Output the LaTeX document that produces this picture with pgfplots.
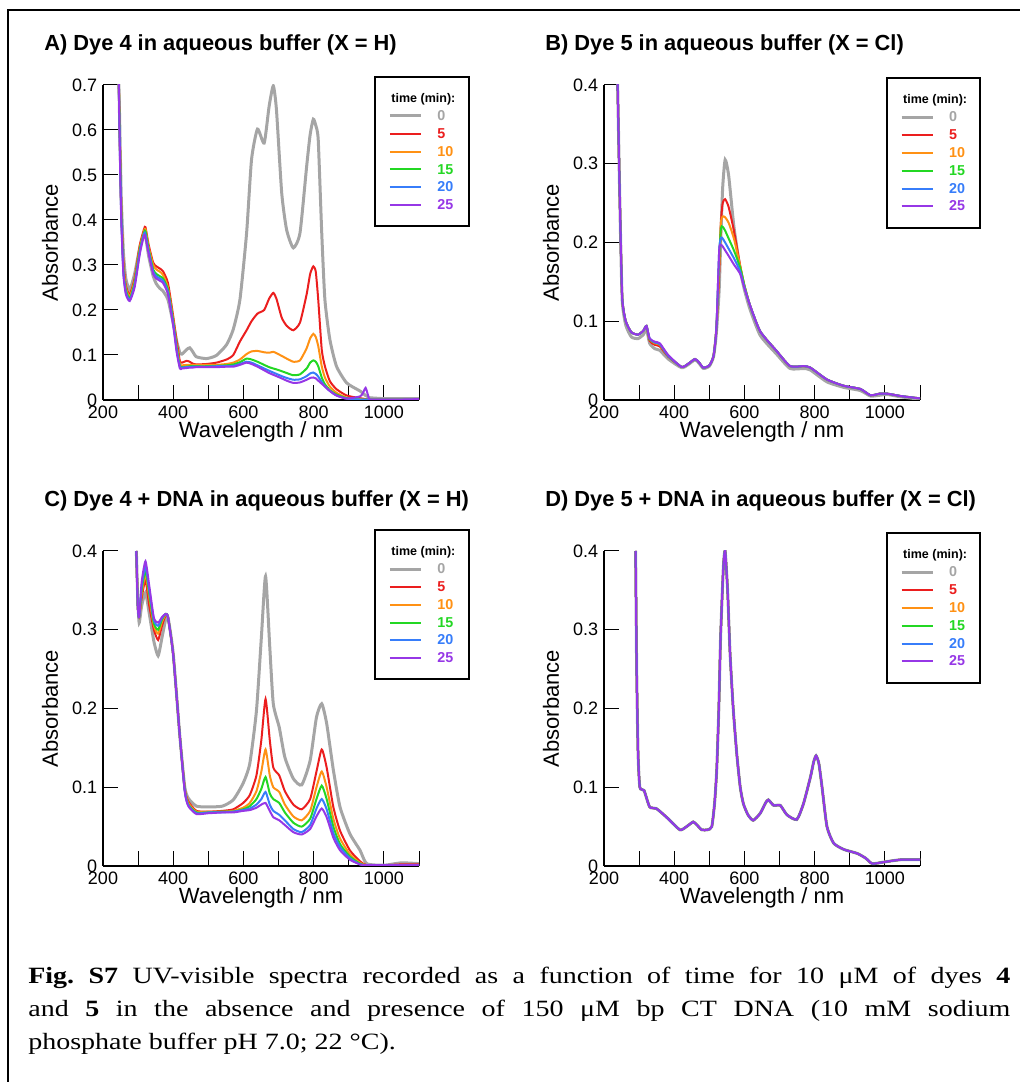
\documentclass[border=0pt]{standalone}
\usepackage{fontspec}
\setmainfont{Liberation Sans}
\newfontfamily\capfont[FakeStretch=1.2]{Liberation Serif}
\usepackage{pgfplots}
\usepackage{pgfplotstable}
\pgfplotsset{compat=1.18}

\definecolor{cG}{RGB}{165,165,165}
\definecolor{cR}{RGB}{235,30,30}
\definecolor{cO}{RGB}{255,145,20}
\definecolor{cGr}{RGB}{35,215,35}
\definecolor{cB}{RGB}{55,125,250}
\definecolor{cP}{RGB}{150,55,230}

% A) dye 4, buffer
\pgfplotstableread{
x    g     r     o     gr    b     p
244  0.75  0.75  0.75  0.75  0.75  0.75
248  0.60  0.58  0.57  0.57  0.56  0.55
252  0.45  0.43  0.42  0.42  0.41  0.40
258  0.33  0.31  0.30  0.29  0.285 0.28
265  0.27  0.255 0.25  0.245 0.24  0.235
276  0.245 0.234 0.23  0.225 0.222 0.22
290  0.28  0.27  0.265 0.26  0.255 0.25
305  0.34  0.345 0.34  0.335 0.33  0.325
317  0.37  0.38  0.375 0.372 0.37  0.366
321  0.365 0.384 0.38  0.375 0.368 0.362
330  0.32  0.345 0.34  0.335 0.33  0.325
343  0.275 0.305 0.30  0.29  0.285 0.28
352  0.258 0.297 0.29  0.28  0.275 0.27
362  0.248 0.292 0.285 0.275 0.27  0.265
371  0.242 0.286 0.278 0.27  0.265 0.26
385  0.223 0.26  0.25  0.245 0.24  0.235
400  0.17  0.186 0.18  0.175 0.17  0.165
410  0.13  0.13  0.12  0.115 0.11  0.105
419  0.105 0.086 0.08  0.075 0.073 0.07
425  0.102 0.083 0.077 0.073 0.072 0.07
438  0.112 0.087 0.078 0.074 0.073 0.071
447  0.116 0.085 0.078 0.075 0.073 0.072
455  0.108 0.081 0.078 0.075 0.074 0.072
466  0.096 0.079 0.078 0.075 0.074 0.073
495  0.092 0.080 0.078 0.075 0.074 0.073
523  0.099 0.083 0.078 0.076 0.075 0.073
552  0.123 0.090 0.080 0.077 0.075 0.074
571  0.157 0.100 0.083 0.079 0.076 0.074
590  0.223 0.130 0.090 0.084 0.080 0.078
609  0.371 0.155 0.102 0.092 0.085 0.083
623  0.534 0.175 0.108 0.090 0.083 0.080
640  0.602 0.192 0.109 0.085 0.077 0.074
659  0.571 0.200 0.106 0.078 0.070 0.066
673  0.652 0.225 0.105 0.073 0.065 0.060
685  0.698 0.238 0.107 0.070 0.061 0.056
694  0.645 0.225 0.104 0.068 0.058 0.053
709  0.460 0.183 0.098 0.064 0.053 0.048
723  0.378 0.165 0.092 0.060 0.049 0.043
742  0.338 0.155 0.085 0.055 0.045 0.038
761  0.371 0.172 0.088 0.057 0.046 0.039
780  0.519 0.235 0.115 0.070 0.053 0.045
790  0.590 0.280 0.137 0.083 0.059 0.049
799  0.624 0.297 0.147 0.088 0.061 0.050
806  0.610 0.285 0.140 0.085 0.058 0.048
813  0.578 0.223 0.120 0.075 0.052 0.043
823  0.371 0.112 0.075 0.050 0.040 0.036
832  0.223 0.075 0.050 0.035 0.030 0.030
846  0.135 0.042 0.030 0.022 0.020 0.020
865  0.075 0.024 0.016 0.012 0.010 0.010
894  0.038 0.010 0.005 0.004 0.003 0.003
932  0.020 0.004 0.002 0.001 0.001 0.008
940  0.015 0.003 0.001 0.001 0.001 0.015
948  0.010 0.002 0.001 0.001 0.001 0.027
955  0.007 0.001 0.001 0.001 0.001 0.010
960  0.005 0.001 0.001 0.001 0.001 0.001
1000 0.003 0.001 0.001 0.001 0.001 0.001
1050 0.003 0.001 0.001 0.001 0.001 0.001
1100 0.003 0.001 0.001 0.001 0.001 0.002
}\tabA

% B) dye 5, buffer
\pgfplotstableread{
x    g     r     o     gr    b     p
238  0.42  0.42  0.42  0.42  0.42  0.42
243  0.30  0.30  0.30  0.30  0.30  0.30
247  0.21  0.213 0.213 0.213 0.213 0.213
252  0.125 0.128 0.128 0.128 0.128 0.128
262  0.095 0.100 0.100 0.100 0.100 0.100
278  0.080 0.086 0.086 0.086 0.086 0.086
297  0.078 0.083 0.083 0.083 0.083 0.083
312  0.083 0.088 0.088 0.088 0.088 0.088
321  0.090 0.094 0.094 0.094 0.094 0.094
330  0.072 0.075 0.077 0.077 0.078 0.078
345  0.065 0.070 0.072 0.073 0.073 0.074
359  0.063 0.068 0.070 0.071 0.071 0.072
383  0.052 0.055 0.056 0.056 0.056 0.057
421  0.041 0.042 0.042 0.042 0.042 0.042
440  0.045 0.046 0.046 0.046 0.046 0.046
459  0.051 0.052 0.052 0.052 0.052 0.052
470  0.047 0.048 0.048 0.048 0.048 0.048
483  0.040 0.041 0.041 0.041 0.041 0.041
500  0.043 0.044 0.044 0.044 0.044 0.044
512  0.055 0.056 0.056 0.056 0.056 0.056
520  0.085 0.090 0.090 0.090 0.090 0.090
528  0.140 0.160 0.170 0.180 0.190 0.190
533  0.210 0.225 0.225 0.218 0.206 0.197
538  0.270 0.250 0.233 0.220 0.205 0.195
545  0.305 0.255 0.232 0.215 0.200 0.190
555  0.285 0.245 0.225 0.205 0.192 0.183
570  0.220 0.215 0.205 0.190 0.180 0.172
588  0.165 0.170 0.170 0.168 0.163 0.160
600  0.140 0.145 0.145 0.145 0.143 0.142
616  0.115 0.120 0.120 0.120 0.120 0.120
645  0.082 0.087 0.087 0.087 0.087 0.087
692  0.058 0.062 0.062 0.062 0.062 0.062
730  0.040 0.043 0.043 0.043 0.043 0.043
769  0.040 0.043 0.043 0.043 0.043 0.043
788  0.038 0.041 0.041 0.041 0.041 0.041
835  0.023 0.026 0.026 0.026 0.026 0.026
883  0.016 0.018 0.018 0.018 0.018 0.018
930  0.012 0.014 0.014 0.014 0.014 0.014
959  0.005 0.006 0.006 0.006 0.006 0.006
985  0.006 0.008 0.008 0.008 0.008 0.008
1007 0.007 0.008 0.008 0.008 0.008 0.008
1045 0.004 0.005 0.005 0.005 0.005 0.005
1100 0.001 0.002 0.002 0.002 0.002 0.002
}\tabB

% C) dye 4 + DNA
\pgfplotstableread{
x    g     r     o     gr    b     p
295  0.400 0.400 0.400 0.400 0.400 0.400
299  0.340 0.330 0.330 0.330 0.330 0.330
303  0.309 0.316 0.316 0.316 0.316 0.316
310  0.330 0.340 0.345 0.350 0.355 0.360
321  0.347 0.363 0.370 0.375 0.380 0.387
332  0.320 0.330 0.340 0.345 0.350 0.355
345  0.285 0.300 0.305 0.308 0.312 0.315
357  0.267 0.287 0.295 0.300 0.305 0.309
368  0.290 0.305 0.310 0.313 0.315 0.316
378  0.312 0.318 0.319 0.320 0.320 0.320
385  0.316 0.316 0.316 0.316 0.316 0.316
400  0.270 0.268 0.268 0.268 0.268 0.268
419  0.164 0.164 0.164 0.164 0.164 0.164
433  0.100 0.098 0.097 0.096 0.095 0.094
443  0.086 0.082 0.080 0.078 0.077 0.076
466  0.076 0.070 0.069 0.068 0.067 0.066
500  0.075 0.069 0.069 0.068 0.068 0.067
540  0.076 0.070 0.069 0.069 0.068 0.068
571  0.084 0.072 0.070 0.069 0.069 0.068
599  0.105 0.080 0.074 0.072 0.071 0.070
618  0.130 0.090 0.080 0.076 0.073 0.071
637  0.197 0.115 0.095 0.085 0.078 0.074
651  0.290 0.160 0.120 0.098 0.085 0.078
663  0.368 0.212 0.148 0.113 0.094 0.080
675  0.278 0.160 0.115 0.092 0.078 0.070
685  0.206 0.125 0.100 0.085 0.070 0.062
702  0.176 0.115 0.094 0.080 0.065 0.058
718  0.138 0.095 0.078 0.068 0.058 0.052
742  0.111 0.078 0.063 0.055 0.047 0.043
766  0.103 0.072 0.058 0.050 0.043 0.040
790  0.134 0.085 0.070 0.060 0.052 0.047
808  0.189 0.120 0.100 0.085 0.073 0.063
823  0.206 0.148 0.120 0.102 0.085 0.073
837  0.181 0.125 0.100 0.085 0.072 0.062
856  0.122 0.075 0.060 0.050 0.042 0.036
875  0.075 0.045 0.035 0.028 0.024 0.020
903  0.041 0.020 0.015 0.012 0.010 0.008
932  0.020 0.006 0.004 0.003 0.002 0.002
951  0.003 0.001 0.001 0.001 0.001 0.001
1000 0.001 0.001 0.001 0.001 0.001 0.001
1050 0.004 0.002 0.001 0.001 0.001 0.001
1100 0.003 0.002 0.001 0.001 0.001 0.001
}\tabC

% D) dye 5 + DNA (all six traces coincide)
\pgfplotstableread{
x    a
290  0.400
293  0.250
297  0.143
302  0.100
314  0.096
330  0.075
349  0.073
378  0.062
416  0.046
435  0.050
454  0.056
465  0.052
478  0.046
495  0.046
507  0.050
515  0.080
521  0.122
527  0.200
532  0.290
540  0.380
545  0.400
552  0.350
559  0.270
568  0.200
578  0.143
588  0.100
597  0.079
610  0.065
625  0.058
645  0.067
660  0.080
668  0.084
683  0.077
702  0.077
721  0.065
749  0.059
768  0.079
788  0.113
797  0.132
804  0.140
812  0.130
821  0.100
835  0.050
854  0.029
883  0.021
921  0.016
945  0.010
964  0.003
997  0.005
1045 0.008
1100 0.008
}\tabD

\pgfplotsset{
  legend image code/.code={\draw[#1] (0pt,0pt) -- (18.6pt,0pt);},
  panel/.style={
    scale only axis, width=189.6pt, height=189pt,
    anchor=south west,
    axis lines=left, axis line style={-, line width=0.8pt},
    xmin=200, xmax=1100, ymin=0,
    xtick={200,400,...,1000}, minor xtick={300,500,...,1100},
    tick align=inside, major tick length=9pt, minor tick length=9pt,
    tick style={line width=0.6pt, black},
    xlabel={Wavelength / nm}, ylabel={Absorbance},
    tick label style={font=\fontsize{10.8}{12}\selectfont},
    label style={font=\fontsize{13.2}{15}\selectfont},
    xlabel style={at={(axis description cs:0.5,-0.102)}, anchor=center},
    ylabel style={at={(axis description cs:-0.168,0.5)}, anchor=center},
    /pgf/number format/assume math mode=true,
    /pgf/number format/set thousands separator={},
    no markers, smooth, tension=0.35,
    legend cell align=left,
    legend style={anchor=north west, draw=black, line width=1.2pt,
      inner xsep=8pt, inner ysep=8.5pt,
      font=\bfseries\fontsize{8.6}{9}\selectfont,
      nodes={inner sep=0pt, text height=7pt, text depth=1.5pt},
      row sep=2.2pt, column sep=9pt},
  },
}

\newcommand{\sixseries}[7]{%
  \addlegendimage{empty legend}
  \addlegendentry{\hspace*{-27.6pt}\fontsize{7.5}{9}\selectfont time (min):}
  \addplot[cG, line width=1.8pt] table[x=x,y=#2]{#1};
  \addlegendentry{\textcolor{cG}{0}}
  \addplot[cR, line width=1.2pt] table[x=x,y=#3]{#1};
  \addlegendentry{\textcolor{cR}{5}}
  \addplot[cO, line width=1.2pt] table[x=x,y=#4]{#1};
  \addlegendentry{\textcolor{cO}{10}}
  \addplot[cGr, line width=1.2pt] table[x=x,y=#5]{#1};
  \addlegendentry{\textcolor{cGr}{15}}
  \addplot[cB, line width=1.2pt] table[x=x,y=#6]{#1};
  \addlegendentry{\textcolor{cB}{20}}
  \addplot[cP, line width=1.2pt] table[x=x,y=#7]{#1};
  \addlegendentry{\textcolor{cP}{25}}
}

\begin{document}
\begin{tikzpicture}
\path[use as bounding box] (0pt,0pt) rectangle (611.4pt,649.2pt);
\draw[line width=1.2pt] (4.8pt,0pt) -- (4.8pt,643.2pt) -- (612pt,643.2pt);

\node[anchor=west, inner sep=0pt, font=\bfseries\fontsize{13.1}{15}\selectfont]
  at (26.4pt,622.2pt) {A) Dye 4 in aqueous buffer (X = H)};
\node[anchor=west, inner sep=0pt, font=\bfseries\fontsize{13.1}{15}\selectfont]
  at (327pt,622.2pt) {B) Dye 5 in aqueous buffer (X = Cl)};
\node[anchor=west, inner sep=0pt, font=\bfseries\fontsize{13.1}{15}\selectfont]
  at (26.4pt,348.6pt) {C) Dye 4 + DNA in aqueous buffer (X = H)};
\node[anchor=west, inner sep=0pt, font=\bfseries\fontsize{13.1}{15}\selectfont]
  at (327pt,348.6pt) {D) Dye 5 + DNA in aqueous buffer (X = Cl)};

\begin{axis}[panel, at={(61.8pt,409.2pt)}, ymax=0.7,
  ytick={0,0.1,...,0.7},
  legend style={at={(0.858,1.029)}}]
  \sixseries{\tabA}{g}{r}{o}{gr}{b}{p}
\end{axis}

\begin{axis}[panel, at={(362.4pt,409.2pt)}, ymax=0.4,
  ytick={0,0.1,...,0.4},
  legend style={at={(0.892,1.025)}}]
  \sixseries{\tabB}{g}{r}{o}{gr}{b}{p}
\end{axis}

\begin{axis}[panel, at={(61.8pt,129.6pt)}, ymax=0.4,
  ytick={0,0.1,...,0.4},
  legend style={at={(0.858,1.07)}}]
  \sixseries{\tabC}{g}{r}{o}{gr}{b}{p}
\end{axis}

\begin{axis}[panel, at={(362.4pt,129.6pt)}, ymax=0.4,
  ytick={0,0.1,...,0.4},
  legend style={at={(0.892,1.06)}}]
  \sixseries{\tabD}{a}{a}{a}{a}{a}{a}
\end{axis}

\node[anchor=north west, inner sep=0pt, text width=589.2pt, align=justify,
  font=\capfont\fontsize{14}{19.8}\selectfont] at (16.8pt,69pt)
  {\frenchspacing\textbf{Fig. S7} UV-visible spectra recorded as a function of time for 10 μM of dyes \textbf{4}\linebreak
   and \textbf{5} in the absence and presence of 150 μM bp CT DNA (10 mM sodium\linebreak
   phosphate buffer pH 7.0; 22 °C).};
\end{tikzpicture}
\end{document}
